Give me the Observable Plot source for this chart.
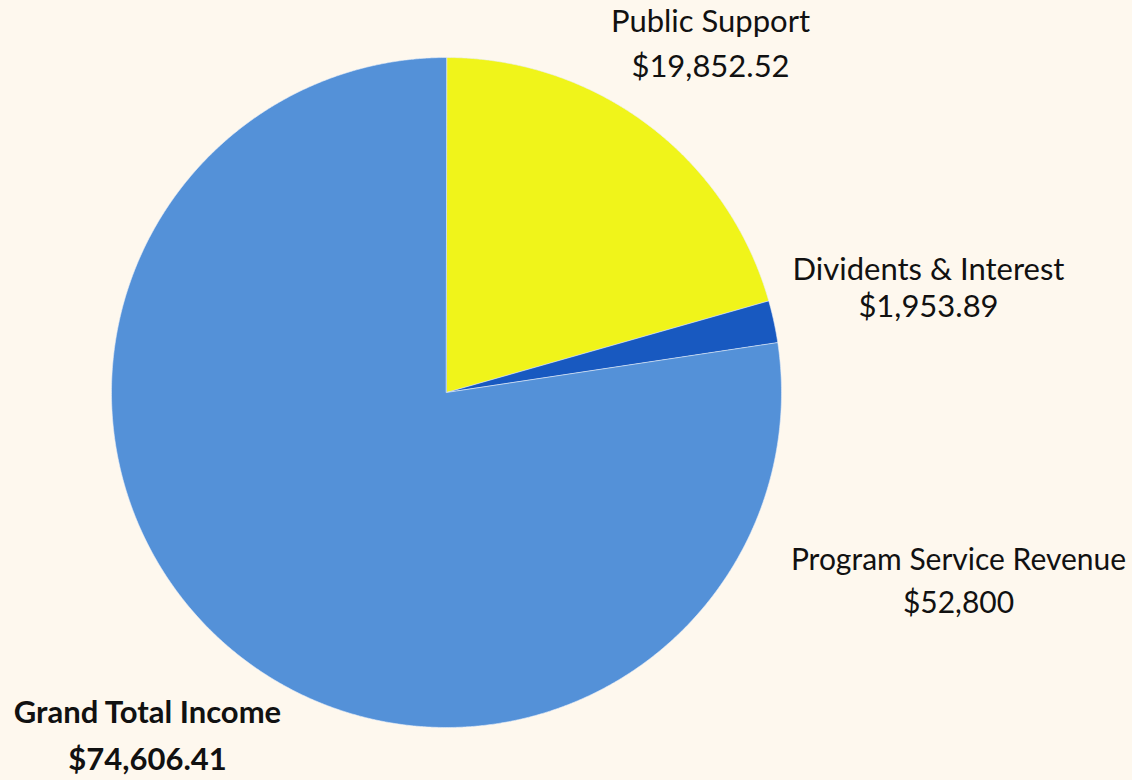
<!DOCTYPE html>
<html><head><meta charset="utf-8">
<script src="https://cdn.jsdelivr.net/npm/d3@7"></script>
<script src="https://cdn.jsdelivr.net/npm/@observablehq/plot@0.6"></script>
<style>
  html,body{margin:0;padding:0;background:#FEF8EE;}
  #chart svg{display:block;}
</style>
</head><body><div id="chart"></div>
<script>
// Pie slices (clockwise from 12 o'clock)
const categories = ["Public Support", "Dividents & Interest", "Grand Total Income"];
const values = [19852.52, 1953.89, 74606.41];
const colors = ["#F0F41A", "#1859C0", "#5491D8"];

// Label texts
const labelNames = ["Public Support", "Dividents & Interest", "Program Service Revenue", "Grand Total Income"];
const labelValues = ["$19,852.52", "$1,953.89", "$52,800", "$74,606.41"];

const W = 1132, H = 780;
const cx = 446, cy = 392, r = 335;

const arcs = d3.pie().sort(null).value(d => d)(values);
const features = arcs.map((a, i) => {
  const pts = [[cx, cy]];
  const n = Math.max(4, Math.ceil((a.endAngle - a.startAngle) / 0.005));
  for (let k = 0; k <= n; k++) {
    const t = a.startAngle + (a.endAngle - a.startAngle) * k / n;
    pts.push([cx + r * Math.sin(t), cy - r * Math.cos(t)]);
  }
  pts.push([cx, cy]);
  return {type: "Feature", properties: {name: categories[i]}, geometry: {type: "Polygon", coordinates: [pts]}};
});

// label layout (annotation placement relative to the pie)
const layout = [
  {x: cx + 264, y1: 22, y2: 67, bold: false, size: 31},
  {x: cx + 482, y1: 270, y2: 307, bold: false, size: 31},
  {x: cx + 512, y1: 560, y2: 603, bold: false, size: 30},
  {x: 147, y1: 713, y2: 760, bold: true, size: 31}
];
const labels = labelNames.map((name, i) => ({name, value: labelValues[i], ...layout[i]}));
const regular = labels.filter(d => !d.bold);
const bold = labels.filter(d => d.bold);

const font = "Lato, 'Noto Sans', sans-serif";

const textOpts = (ychan, txt, weight) => ({
  x: "x", y: ychan, text: txt, fill: "#111", textAnchor: "middle",
  fontSize: d => d.size, fontWeight: weight
});

const chart = Plot.plot({
  width: W, height: H,
  margin: 0,
  projection: d3.geoIdentity(),
  color: {domain: categories, range: colors},
  style: {background: "#FEF8EE", fontFamily: font},
  marks: [
    Plot.geo(features, {fill: d => d.properties.name, stroke: "#e8eef8", strokeWidth: 0.6}),
    Plot.text(regular, textOpts("y1", "name", "normal")),
    Plot.text(regular, textOpts("y2", "value", "normal")),
    Plot.text(bold, textOpts("y1", "name", "bold")),
    Plot.text(bold, textOpts("y2", "value", "bold"))
  ]
});
document.getElementById("chart").appendChild(chart);
</script>
</body></html>
